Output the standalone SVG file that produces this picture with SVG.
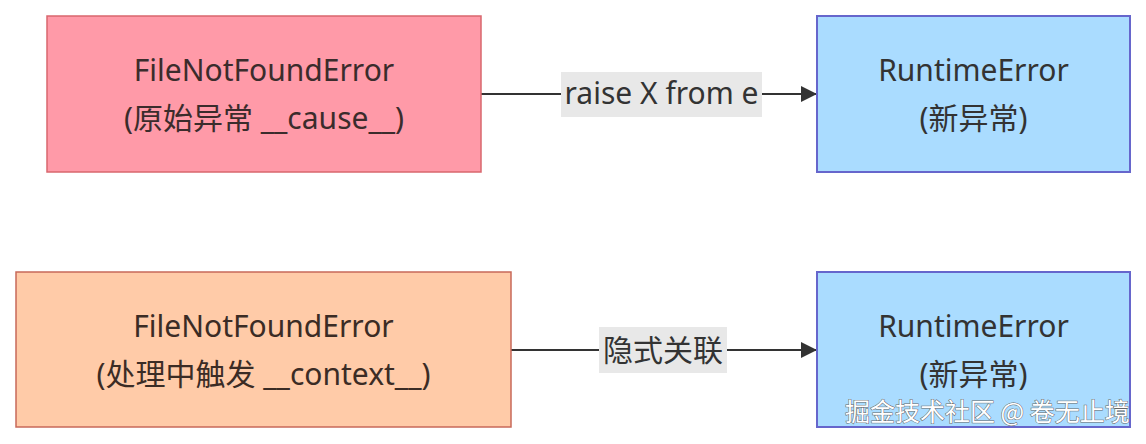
<svg xmlns="http://www.w3.org/2000/svg" width="1146" height="444" viewBox="0 0 1146 444">
<style>
.t{font-family:"Noto Sans","Noto Sans CJK SC",sans-serif;font-size:30px;fill:#333;text-anchor:middle}
.lbl{fill:#e8e8e8}
.edge{stroke:#333;stroke-width:2;fill:none}
.wm{font-family:"Noto Sans CJK SC",sans-serif;font-size:25px;fill:#fff;stroke:#666;stroke-width:1;paint-order:stroke}
</style>
<defs>
<marker id="arr" viewBox="0 0 10 10" refX="10" refY="5" markerWidth="17" markerHeight="16" markerUnits="userSpaceOnUse" orient="auto">
<path d="M0,0 L10,5 L0,10 z" fill="#333"/>
</marker>
</defs>
<rect width="1146" height="444" fill="#fff"/>
<g id="edges">
<path class="edge" d="M481,94 L817,94" marker-end="url(#arr)"/>
<path class="edge" d="M511,350 L817,350" marker-end="url(#arr)"/>
<g id="label1"><rect class="lbl" x="561" y="72" width="201" height="45"/><text class="t" x="661.5" y="104">raise X from e</text></g>
<g id="label2"><rect class="lbl" x="599" y="327" width="128" height="46"/><text class="t" x="663" y="361">隐式关联</text></g>
</g>
<g id="nodeA">
<rect x="47" y="16" width="434" height="156" fill="#ff9aa8" stroke="#d9676e" stroke-width="1.5"/>
<text class="t" x="264" y="81" style="fill:#3b2c2c">FileNotFoundError</text>
<text class="t" x="264" y="129" style="fill:#3b2c2c">(原始异常 __cause__)</text>
</g>
<g id="nodeB">
<rect x="817" y="16" width="313" height="156" fill="#aadcff" stroke="#6666cc" stroke-width="2"/>
<text class="t" x="973.5" y="81">RuntimeError</text>
<text class="t" x="973.5" y="129">(新异常)</text>
</g>
<g id="nodeC">
<rect x="16" y="272" width="495" height="155" fill="#ffcba8" stroke="#c8695a" stroke-width="1.5"/>
<text class="t" x="263.5" y="337" style="fill:#3b2c25">FileNotFoundError</text>
<text class="t" x="263.5" y="385" style="fill:#3b2c25">(处理中触发 __context__)</text>
</g>
<g id="nodeD">
<rect x="817" y="272" width="313" height="155" fill="#aadcff" stroke="#6666cc" stroke-width="2"/>
<text class="t" x="973.5" y="337">RuntimeError</text>
<text class="t" x="973.5" y="385">(新异常)</text>
</g>
<text class="wm" x="845" y="421">掘金技术社区 @ 卷无止境</text>
</svg>
